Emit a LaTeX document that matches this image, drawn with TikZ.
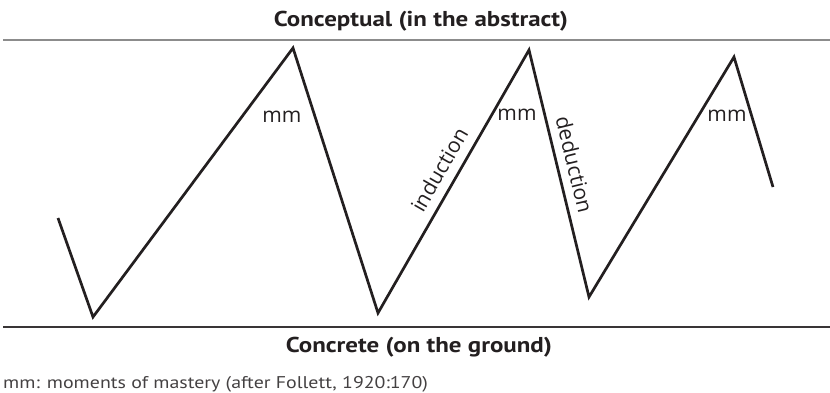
\documentclass[tikz,border=0pt]{standalone}
\usepackage{fontspec}
\setmainfont{Open Sans}
\newfontfamily\headfont{PT Sans}[FakeStretch=1.16]
\newfontfamily\notefont{PT Sans}[FakeStretch=1.17]
\definecolor{inkdark}{HTML}{231F20}
\definecolor{rulegray}{HTML}{8C8C8C}
\tikzset{
  top rule/.style={line width=2.5pt, rulegray},
  ground rule/.style={line width=2pt, inkdark!90},
  zigzag line/.style={line width=2.7pt, inkdark, line join=miter},
  level label/.style={font=\headfont\bfseries\fontsize{21.5}{21.5}\selectfont, text=inkdark, anchor=base, inner sep=0pt},
  step label/.style={font=\fontsize{21}{21}\selectfont, text=inkdark, inner sep=0pt},
  note label/.style={font=\notefont\fontsize{17}{17}\selectfont, text=inkdark!85, anchor=base west, inner sep=0pt},
}

\begin{document}
\begin{tikzpicture}[x=1pt, y=-1pt]
  \useasboundingbox (0,0) rectangle (830,393);
  % levels
  \node[level label] (abstract) at (421,27) {Conceptual (in the abstract)};
  \node[level label] (ground) at (419,352) {Concrete (on the ground)};
  \coordinate (topL) at (3,40);
  \coordinate (topR) at (830,40);
  \coordinate (botL) at (3,327);
  \coordinate (botR) at (830,327);
  \draw[top rule] (topL) -- (topR);
  \draw[ground rule] (botL) -- (botR);
  % zigzag
  \coordinate (s0) at (58,218);
  \coordinate (b1) at (93,317);
  \coordinate (t1) at (293,48);
  \coordinate (b2) at (378,313);
  \coordinate (t2) at (529,50);
  \coordinate (b3) at (589,297);
  \coordinate (t3) at (734,57);
  \coordinate (e0) at (773,187);
  \draw[zigzag line] (s0) -- (b1) -- (t1) -- (b2) -- (t2) -- (b3) -- (t3) -- (e0);
  \path (b2) -- node[step label, sloped, pos=0.51, above=10pt] (ind) {induction} (t2);
  \path (t2) -- node[step label, sloped, pos=0.48, above=9pt] (ded) {deduction} (b3);
  \node[step label] (mm1) at (282,117) {mm};
  \node[step label] (mm2) at (517,115) {mm};
  \node[step label] (mm3) at (727,116) {mm};
  \node[note label] (note) at (3,388) {mm: moments of mastery (after Follett, 1920:170)};
\end{tikzpicture}
\end{document}
